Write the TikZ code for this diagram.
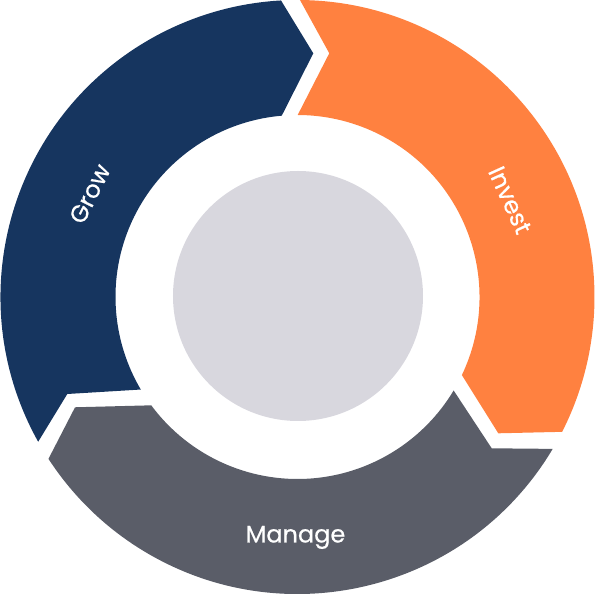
\documentclass[tikz,border=0pt]{standalone}
\usepackage{fontspec}
\setmainfont{Poppins}
\newfontfamily\segfont{Poppins}[FakeBold=0.6]
\definecolor{growblue}{RGB}{22,53,95}
\definecolor{investorange}{RGB}{255,129,64}
\definecolor{managegrey}{RGB}{90,93,104}
\definecolor{corecolour}{RGB}{216,215,222}

\begin{document}
\begin{tikzpicture}[x=1pt, y=1pt,
    core/.style={circle, fill=corecolour, minimum size=250pt, inner sep=0pt},
    seglabel/.style={text=white, font=\segfont\fontsize{24}{28}\selectfont, inner sep=0pt}
]
\useasboundingbox (-297.5,-297) rectangle (297.5,297);

% Grow segment (tail bottom left, head at top)
\fill[growblue] (209.17:297) arc[start angle=209.17, end angle=93.18, radius=297]
    -- (86.29:244.2) -- (94.96:182) arc[start angle=94.96, end angle=210.56, radius=182]
    -- (202.85:249.8) -- cycle;

% Invest segment (tail at top, head bottom right)
\fill[investorange] (89.52:297) arc[start angle=89.52, end angle=-27.0, radius=297]
    -- (-34.17:242.7) -- (-25.41:182) arc[start angle=-25.41, end angle=89.94, radius=182]
    -- (82.57:245.8) -- cycle;

% Manage segment (tail bottom right, head bottom left)
\fill[managegrey] (-30.76:297) arc[start angle=-30.76, end angle=-146.98, radius=297]
    -- (206.37:248.3) -- (-143.47:182) arc[start angle=-143.47, end angle=-30.91, radius=182]
    -- (-37.92:246.2) -- cycle;

% Centre disc
\node[core] (hub) at (0.5,1) {};

% Labels
\node[seglabel, rotate=63.6] (grow) at (153.6:232) {Grow};
\node[seglabel, rotate=-65.5] (invest) at (24.5:233.5) {Invest};
\node[seglabel] (manage) at (-2,-240.4) {Manage};

\end{tikzpicture}
\end{document}
